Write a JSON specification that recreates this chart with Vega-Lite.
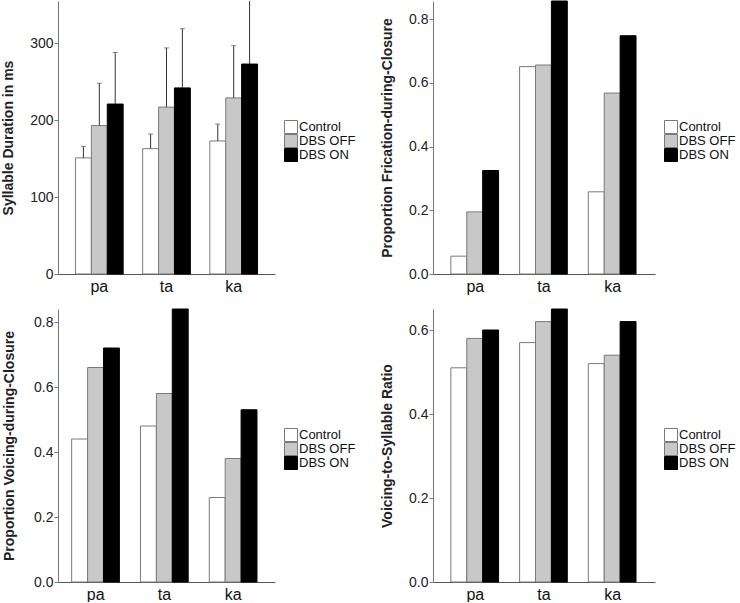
{
  "$schema": "https://vega.github.io/schema/vega-lite/v6.json",
  "padding": {"left": 1, "top": 0, "right": 0, "bottom": 0},
  "background": "white",
  "config": {
    "font": "Liberation Sans",
    "view": {"stroke": null},
    "axisY": {"domainColor": "#777777", "tickColor": "#777777", "tickSize": 4, "labelPadding": 1, "labelFontSize": 14, "labelColor": "#222222", "titleFontSize": 14, "titleFontWeight": "bold", "titleColor": "#222222", "titlePadding": 14, "grid": false},
    "axisX": {"title": null, "ticks": false, "labelAngle": 0, "labelFontSize": 16, "labelPadding": 4, "domainColor": "#555555", "labelColor": "#111111", "grid": false},
    "legend": {"title": null, "orient": "none", "legendY": 119, "symbolType": "square", "symbolSize": 169, "symbolStrokeColor": "#333333", "symbolStrokeWidth": 1, "symbolOpacity": 1, "labelFontSize": 13, "labelColor": "#111111", "labelOffset": 1, "rowPadding": 0, "clipHeight": 14, "padding": 0}
  },
  "datasets": {
    "duration": [
      {"syllable": "pa", "condition": "Control", "value": 151, "upper": 166},
      {"syllable": "pa", "condition": "DBS OFF", "value": 193, "upper": 248},
      {"syllable": "pa", "condition": "DBS ON", "value": 221, "upper": 288},
      {"syllable": "ta", "condition": "Control", "value": 163, "upper": 182},
      {"syllable": "ta", "condition": "DBS OFF", "value": 217, "upper": 294},
      {"syllable": "ta", "condition": "DBS ON", "value": 242, "upper": 319},
      {"syllable": "ka", "condition": "Control", "value": 173, "upper": 195},
      {"syllable": "ka", "condition": "DBS OFF", "value": 229, "upper": 297},
      {"syllable": "ka", "condition": "DBS ON", "value": 273, "upper": 362}
    ],
    "frication": [
      {"syllable": "pa", "condition": "Control", "value": 0.056},
      {"syllable": "pa", "condition": "DBS OFF", "value": 0.195},
      {"syllable": "pa", "condition": "DBS ON", "value": 0.325},
      {"syllable": "ta", "condition": "Control", "value": 0.651},
      {"syllable": "ta", "condition": "DBS OFF", "value": 0.656},
      {"syllable": "ta", "condition": "DBS ON", "value": 0.857},
      {"syllable": "ka", "condition": "Control", "value": 0.258},
      {"syllable": "ka", "condition": "DBS OFF", "value": 0.568},
      {"syllable": "ka", "condition": "DBS ON", "value": 0.748}
    ],
    "voicing": [
      {"syllable": "pa", "condition": "Control", "value": 0.44},
      {"syllable": "pa", "condition": "DBS OFF", "value": 0.66},
      {"syllable": "pa", "condition": "DBS ON", "value": 0.72},
      {"syllable": "ta", "condition": "Control", "value": 0.48},
      {"syllable": "ta", "condition": "DBS OFF", "value": 0.58},
      {"syllable": "ta", "condition": "DBS ON", "value": 0.84},
      {"syllable": "ka", "condition": "Control", "value": 0.26},
      {"syllable": "ka", "condition": "DBS OFF", "value": 0.38},
      {"syllable": "ka", "condition": "DBS ON", "value": 0.53}
    ],
    "ratio": [
      {"syllable": "pa", "condition": "Control", "value": 0.51},
      {"syllable": "pa", "condition": "DBS OFF", "value": 0.58},
      {"syllable": "pa", "condition": "DBS ON", "value": 0.60},
      {"syllable": "ta", "condition": "Control", "value": 0.57},
      {"syllable": "ta", "condition": "DBS OFF", "value": 0.62},
      {"syllable": "ta", "condition": "DBS ON", "value": 0.65},
      {"syllable": "ka", "condition": "Control", "value": 0.52},
      {"syllable": "ka", "condition": "DBS OFF", "value": 0.54},
      {"syllable": "ka", "condition": "DBS ON", "value": 0.62}
    ]
  },
  "concat": [
    {
      "width": 217, "height": 273,
      "data": {"name": "duration"},
      "layer": [
        {
          "mark": {"type": "bar", "strokeWidth": 1},
          "encoding": {
            "x": {"field": "syllable", "type": "nominal", "sort": ["pa", "ta", "ka"], "scale": {"paddingInner": 0.29, "paddingOuter": 0.26}},
            "xOffset": {"field": "condition", "type": "nominal", "sort": ["Control", "DBS OFF", "DBS ON"]},
            "y": {"field": "value", "type": "quantitative", "scale": {"domain": [0, 355], "nice": false}, "axis": {"title": "Syllable Duration in ms", "values": [0, 100, 200, 300], "format": "d"}},
            "fill": {"field": "condition", "type": "nominal", "scale": {"domain": ["Control", "DBS OFF", "DBS ON"], "range": ["#ffffff", "#c8c8c8", "#000000"]}, "legend": {"legendX": 226}},
            "stroke": {"field": "condition", "type": "nominal", "scale": {"domain": ["Control", "DBS OFF", "DBS ON"], "range": ["#7a7a7a", "#7a7a7a", "#000000"]}, "legend": null}
          }
        },
        {
          "mark": {"type": "rule", "color": "#333333", "strokeWidth": 1, "clip": true},
          "encoding": {
            "x": {"field": "syllable", "type": "nominal", "sort": ["pa", "ta", "ka"]},
            "xOffset": {"field": "condition", "type": "nominal", "sort": ["Control", "DBS OFF", "DBS ON"]},
            "y": {"field": "value", "type": "quantitative", "axis": {"title": "Syllable Duration in ms", "values": [0, 100, 200, 300], "format": "d"}},
            "y2": {"field": "upper"}
          }
        },
        {
          "mark": {"type": "tick", "color": "#555555", "thickness": 1, "size": 5, "clip": true, "orient": "horizontal"},
          "encoding": {
            "x": {"field": "syllable", "type": "nominal", "sort": ["pa", "ta", "ka"]},
            "xOffset": {"field": "condition", "type": "nominal", "sort": ["Control", "DBS OFF", "DBS ON"]},
            "y": {"field": "upper", "type": "quantitative", "axis": {"title": "Syllable Duration in ms", "values": [0, 100, 200, 300], "format": "d"}}
          }
        }
      ]
    },
    {
      "width": 222, "height": 273,
      "data": {"name": "frication"},
      "mark": {"type": "bar", "strokeWidth": 1},
      "encoding": {
        "x": {"field": "syllable", "type": "nominal", "sort": ["pa", "ta", "ka"], "scale": {"paddingInner": 0.29, "paddingOuter": 0.26}},
        "xOffset": {"field": "condition", "type": "nominal", "sort": ["Control", "DBS OFF", "DBS ON"]},
        "y": {"field": "value", "type": "quantitative", "scale": {"domain": [0, 0.857], "nice": false}, "axis": {"title": "Proportion Frication-during-Closure", "values": [0, 0.2, 0.4, 0.6, 0.8], "format": ".1f"}},
        "fill": {"field": "condition", "type": "nominal", "scale": {"domain": ["Control", "DBS OFF", "DBS ON"], "range": ["#ffffff", "#c8c8c8", "#000000"]}, "legend": {"legendX": 231}},
        "stroke": {"field": "condition", "type": "nominal", "scale": {"domain": ["Control", "DBS OFF", "DBS ON"], "range": ["#7a7a7a", "#7a7a7a", "#000000"]}, "legend": null}
      }
    },
    {
      "width": 217, "height": 273,
      "data": {"name": "voicing"},
      "mark": {"type": "bar", "strokeWidth": 1},
      "encoding": {
        "x": {"field": "syllable", "type": "nominal", "sort": ["pa", "ta", "ka"], "scale": {"paddingInner": 0.302, "paddingOuter": 0.228, "align": 0.436}},
        "xOffset": {"field": "condition", "type": "nominal", "sort": ["Control", "DBS OFF", "DBS ON"]},
        "y": {"field": "value", "type": "quantitative", "scale": {"domain": [0, 0.84], "nice": false}, "axis": {"title": "Proportion Voicing-during-Closure", "values": [0, 0.2, 0.4, 0.6, 0.8], "format": ".1f", "titlePadding": 17.5}},
        "fill": {"field": "condition", "type": "nominal", "scale": {"domain": ["Control", "DBS OFF", "DBS ON"], "range": ["#ffffff", "#c8c8c8", "#000000"]}, "legend": {"legendX": 226}},
        "stroke": {"field": "condition", "type": "nominal", "scale": {"domain": ["Control", "DBS OFF", "DBS ON"], "range": ["#7a7a7a", "#7a7a7a", "#000000"]}, "legend": null}
      }
    },
    {
      "width": 222, "height": 273,
      "data": {"name": "ratio"},
      "mark": {"type": "bar", "strokeWidth": 1},
      "encoding": {
        "x": {"field": "syllable", "type": "nominal", "sort": ["pa", "ta", "ka"], "scale": {"paddingInner": 0.29, "paddingOuter": 0.26}},
        "xOffset": {"field": "condition", "type": "nominal", "sort": ["Control", "DBS OFF", "DBS ON"]},
        "y": {"field": "value", "type": "quantitative", "scale": {"domain": [0, 0.65], "nice": false}, "axis": {"title": "Voicing-to-Syllable Ratio", "values": [0, 0.2, 0.4, 0.6], "format": ".1f"}},
        "fill": {"field": "condition", "type": "nominal", "scale": {"domain": ["Control", "DBS OFF", "DBS ON"], "range": ["#ffffff", "#c8c8c8", "#000000"]}, "legend": {"legendX": 231}},
        "stroke": {"field": "condition", "type": "nominal", "scale": {"domain": ["Control", "DBS OFF", "DBS ON"], "range": ["#7a7a7a", "#7a7a7a", "#000000"]}, "legend": null}
      }
    }
  ],
  "columns": 2,
  "spacing": {"row": 14, "column": 24},
  "resolve": {"scale": {"fill": "independent", "stroke": "independent"}}
}
